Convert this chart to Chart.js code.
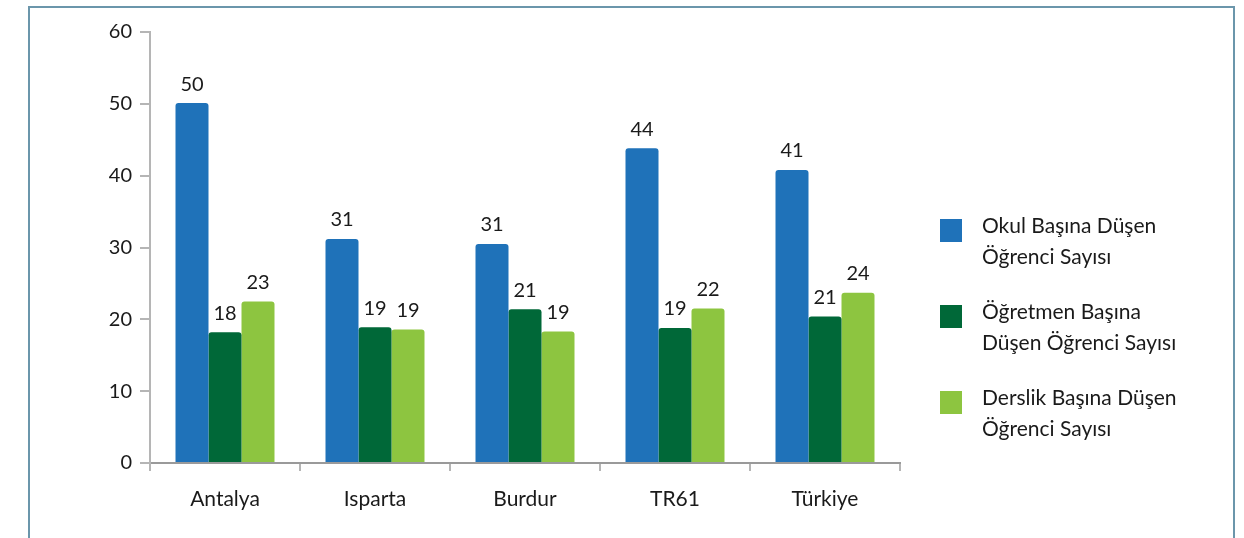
<!DOCTYPE html>
<html>
<head>
<meta charset="utf-8">
<script src="https://cdn.jsdelivr.net/npm/chart.js@4/dist/chart.umd.min.js"></script>
<style>
  html, body { margin: 0; padding: 0; background: #fff; }
  body { width: 1244px; height: 538px; position: relative; overflow: hidden; font-family: Lato, "Open Sans", sans-serif; }
  #frame { position: absolute; left: 28px; top: 6px; width: 1207px; height: 600px; border: 2px solid #6b96ab; box-sizing: border-box; }
  #wrap { position: absolute; left: 0; top: 0; width: 1244px; height: 538px; }
  #legend { position: absolute; left: 940px; top: 209px; }
  .item { position: relative; padding-left: 42px; font-size: 21px; line-height: 31px; color: #1a1a1a; height: 86px; }
  .item .sw { position: absolute; left: 0; top: 10px; width: 22px; height: 23px; }
</style>
</head>
<body>
<div id="frame"></div>
<div id="wrap"><canvas id="myChart" width="1244" height="538"></canvas></div>
<div id="legend"></div>
<script>
// veriler
const kategoriler = ['Antalya', 'Isparta', 'Burdur', 'TR61', 'Türkiye'];
const okul = [50.1, 31.2, 30.5, 43.8, 40.8];
const ogretmen = [18.2, 18.9, 21.4, 18.8, 20.4];
const derslik = [22.5, 18.6, 18.3, 21.5, 23.7];
// grafikte yazan etiketler
const okulEtiket = [50, 31, 31, 44, 41];
const ogretmenEtiket = [18, 19, 21, 19, 21];
const derslikEtiket = [23, 19, 19, 22, 24];
const seriAdlari = [
  ['Okul Başına Düşen', 'Öğrenci Sayısı'],
  ['Öğretmen Başına', 'Düşen Öğrenci Sayısı'],
  ['Derslik Başına Düşen', 'Öğrenci Sayısı']
];
const yTicks = [0, 10, 20, 30, 40, 50, 60];
const renkler = ['#1f72b9', '#006838', '#8dc540'];

const etiketler = [okulEtiket, ogretmenEtiket, derslikEtiket];

// barlarin ustune degerleri yaz
const degerYaz = {
  id: 'degerYaz',
  afterDatasetsDraw(chart) {
    const ctx = chart.ctx;
    ctx.save();
    ctx.font = '20px Lato, "Open Sans", sans-serif';
    ctx.fillStyle = '#1a1a1a';
    ctx.textAlign = 'center';
    ctx.textBaseline = 'bottom';
    chart.data.datasets.forEach((ds, i) => {
      chart.getDatasetMeta(i).data.forEach((bar, j) => {
        ctx.fillText(etiketler[i][j], bar.x, bar.y - 9);
      });
    });
    ctx.restore();
  }
};

const ctx = document.getElementById('myChart');
new Chart(ctx, {
  type: 'bar',
  data: {
    labels: kategoriler,
    datasets: [
      { label: seriAdlari[0].join(' '), data: okul, backgroundColor: renkler[0] },
      { label: seriAdlari[1].join(' '), data: ogretmen, backgroundColor: renkler[1] },
      { label: seriAdlari[2].join(' '), data: derslik, backgroundColor: renkler[2] }
    ]
  },
  options: {
    responsive: false,
    animation: false,
    layout: { padding: { top: 32, right: 344, left: 0, bottom: 0 } },
    datasets: {
      bar: {
        categoryPercentage: 0.66,
        barPercentage: 1,
        borderRadius: { topLeft: 3, topRight: 3 },
        borderSkipped: 'bottom'
      }
    },
    plugins: {
      legend: { display: false },
      tooltip: { enabled: false }
    },
    scales: {
      x: {
        afterFit: s => { s.height = 75; },
        border: { color: '#9a9a9a', width: 2 },
        grid: { drawOnChartArea: false, color: '#b5b5b5', lineWidth: 2, tickLength: 8 },
        ticks: { color: '#1a1a1a', padding: 16, font: { family: 'Lato', size: 21 } }
      },
      y: {
        min: 0,
        max: 60,
        afterFit: s => { s.width = 150; },
        afterBuildTicks: s => { s.ticks = yTicks.map(v => ({ value: v })); },
        border: { color: '#b5b5b5', width: 2 },
        grid: { drawOnChartArea: false, color: '#b5b5b5', lineWidth: 2, tickLength: 10 },
        ticks: { color: '#1a1a1a', padding: 8, font: { family: 'Lato', size: 20 } }
      }
    }
  },
  plugins: [degerYaz]
});

// legend (html)
const legend = document.getElementById('legend');
seriAdlari.forEach((ad, i) => {
  const d = document.createElement('div');
  d.className = 'item';
  d.innerHTML = '<span class="sw" style="background:' + renkler[i] + '"></span>' + ad.join('<br>');
  legend.appendChild(d);
});
</script>
</body>
</html>
